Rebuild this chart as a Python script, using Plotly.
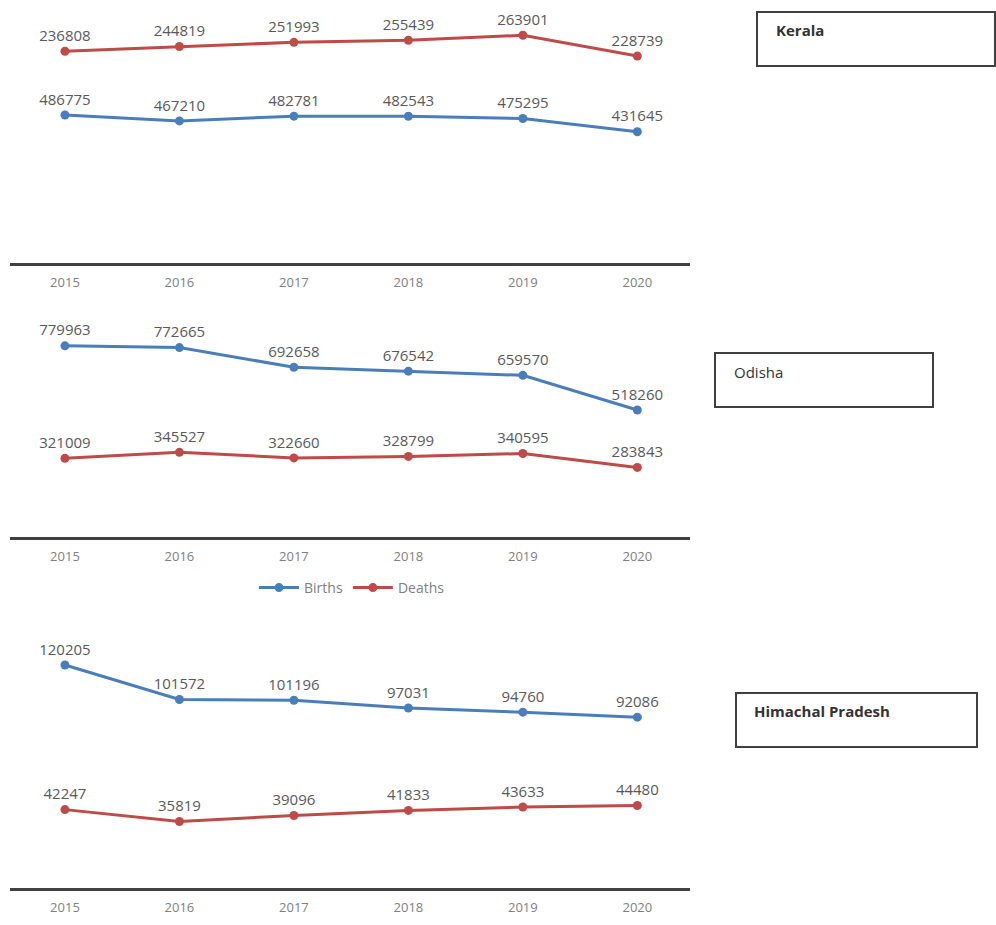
import plotly.graph_objects as go

# Registered births and deaths, 2015-2020
years = ["2015", "2016", "2017", "2018", "2019", "2020"]

kerala_births = [486775, 467210, 482781, 482543, 475295, 431645]
kerala_deaths = [236808, 244819, 251993, 255439, 263901, 228739]

odisha_births = [779963, 772665, 692658, 676542, 659570, 518260]
odisha_deaths = [321009, 345527, 322660, 328799, 340595, 283843]

himachal_births = [120205, 101572, 101196, 97031, 94760, 92086]
himachal_deaths = [42247, 35819, 39096, 41833, 43633, 44480]

state_names = ["Kerala", "Odisha", "Himachal Pradesh"]

W, H = 996, 925
BLUE = "#4A7EBB"
RED = "#BE4B48"
LABEL_FONT = dict(family="Open Sans", size=15, color="#595959")
TICK_FONT = dict(family="Open Sans", size=13, color="#808080")


def py(p):
    """Pixel row -> paper fraction."""
    return 1 - p / H


def px(p):
    return p / W


fig = go.Figure()


def add_series(values, color, name, xa, ya, show):
    fig.add_trace(go.Scatter(
        x=years, y=values, name=name, xaxis=xa, yaxis=ya,
        mode="lines+markers+text",
        text=[str(v) for v in values], textposition="top center",
        textfont=LABEL_FONT,
        line=dict(color=color, width=3),
        marker=dict(color=color, size=9),
        showlegend=show, cliponaxis=False,
    ))


add_series(kerala_births, BLUE, "Births", "x", "y", False)
add_series(kerala_deaths, RED, "Deaths", "x", "y4", False)
add_series(odisha_births, BLUE, "Births", "x2", "y2", True)
add_series(odisha_deaths, RED, "Deaths", "x2", "y2", True)
add_series(himachal_births, BLUE, "Births", "x3", "y3", False)
add_series(himachal_deaths, RED, "Deaths", "x3", "y3", False)

xdom = [px(10), px(690)]
xcommon = dict(
    type="category", range=[-0.48, 5.46], domain=xdom,
    showline=True, linecolor="#404040", linewidth=2.5,
    showgrid=False, zeroline=False, ticks="", ticklabelstandoff=6,
    tickfont=TICK_FONT, fixedrange=True,
)
ycommon = dict(visible=False, showgrid=False, zeroline=False, fixedrange=True)

fig.update_layout(
    width=W, height=H,
    margin=dict(l=0, r=0, t=0, b=0),
    paper_bgcolor="white", plot_bgcolor="white",
    xaxis=dict(anchor="y", **xcommon),
    xaxis2=dict(anchor="y2", **xcommon),
    xaxis3=dict(anchor="y3", **xcommon),
    yaxis=dict(domain=[py(263), 1], range=[0, 263 * 3288], **ycommon),
    yaxis4=dict(overlaying="y", range=[-121000, 323500], **ycommon),
    yaxis2=dict(domain=[py(537), py(290)], range=[0, 247 * 4080], **ycommon),
    yaxis3=dict(domain=[py(888), py(620)], range=[0, 268 * 539], **ycommon),
    legend=dict(
        orientation="h", x=px(352), y=py(588), xanchor="center", yanchor="middle",
        font=dict(family="Open Sans", size=14, color="#808080"),
        itemwidth=40, tracegroupgap=0, bgcolor="rgba(0,0,0,0)",
    ),
)

# State name boxes
boxes = [
    (state_names[0], 757, 12, 995, 66, 774, 30, True),
    (state_names[1], 715, 353, 933, 407, 732, 372, False),
    (state_names[2], 736, 693, 977, 747, 752, 711, True),
]
for name, x0, y0, x1, y1, tx, ty, bold in boxes:
    fig.add_shape(type="rect", xref="paper", yref="paper",
                  x0=px(x0), x1=px(x1), y0=py(y1), y1=py(y0),
                  line=dict(color="#404040", width=2), fillcolor="white")
    fig.add_annotation(xref="paper", yref="paper", x=px(tx), y=py(ty),
                       xanchor="left", yanchor="middle", showarrow=False,
                       text=f"<b>{name}</b>" if bold else name,
                       font=dict(family="Open Sans", size=15, color="#333333"))

fig.write_html("out.html")
